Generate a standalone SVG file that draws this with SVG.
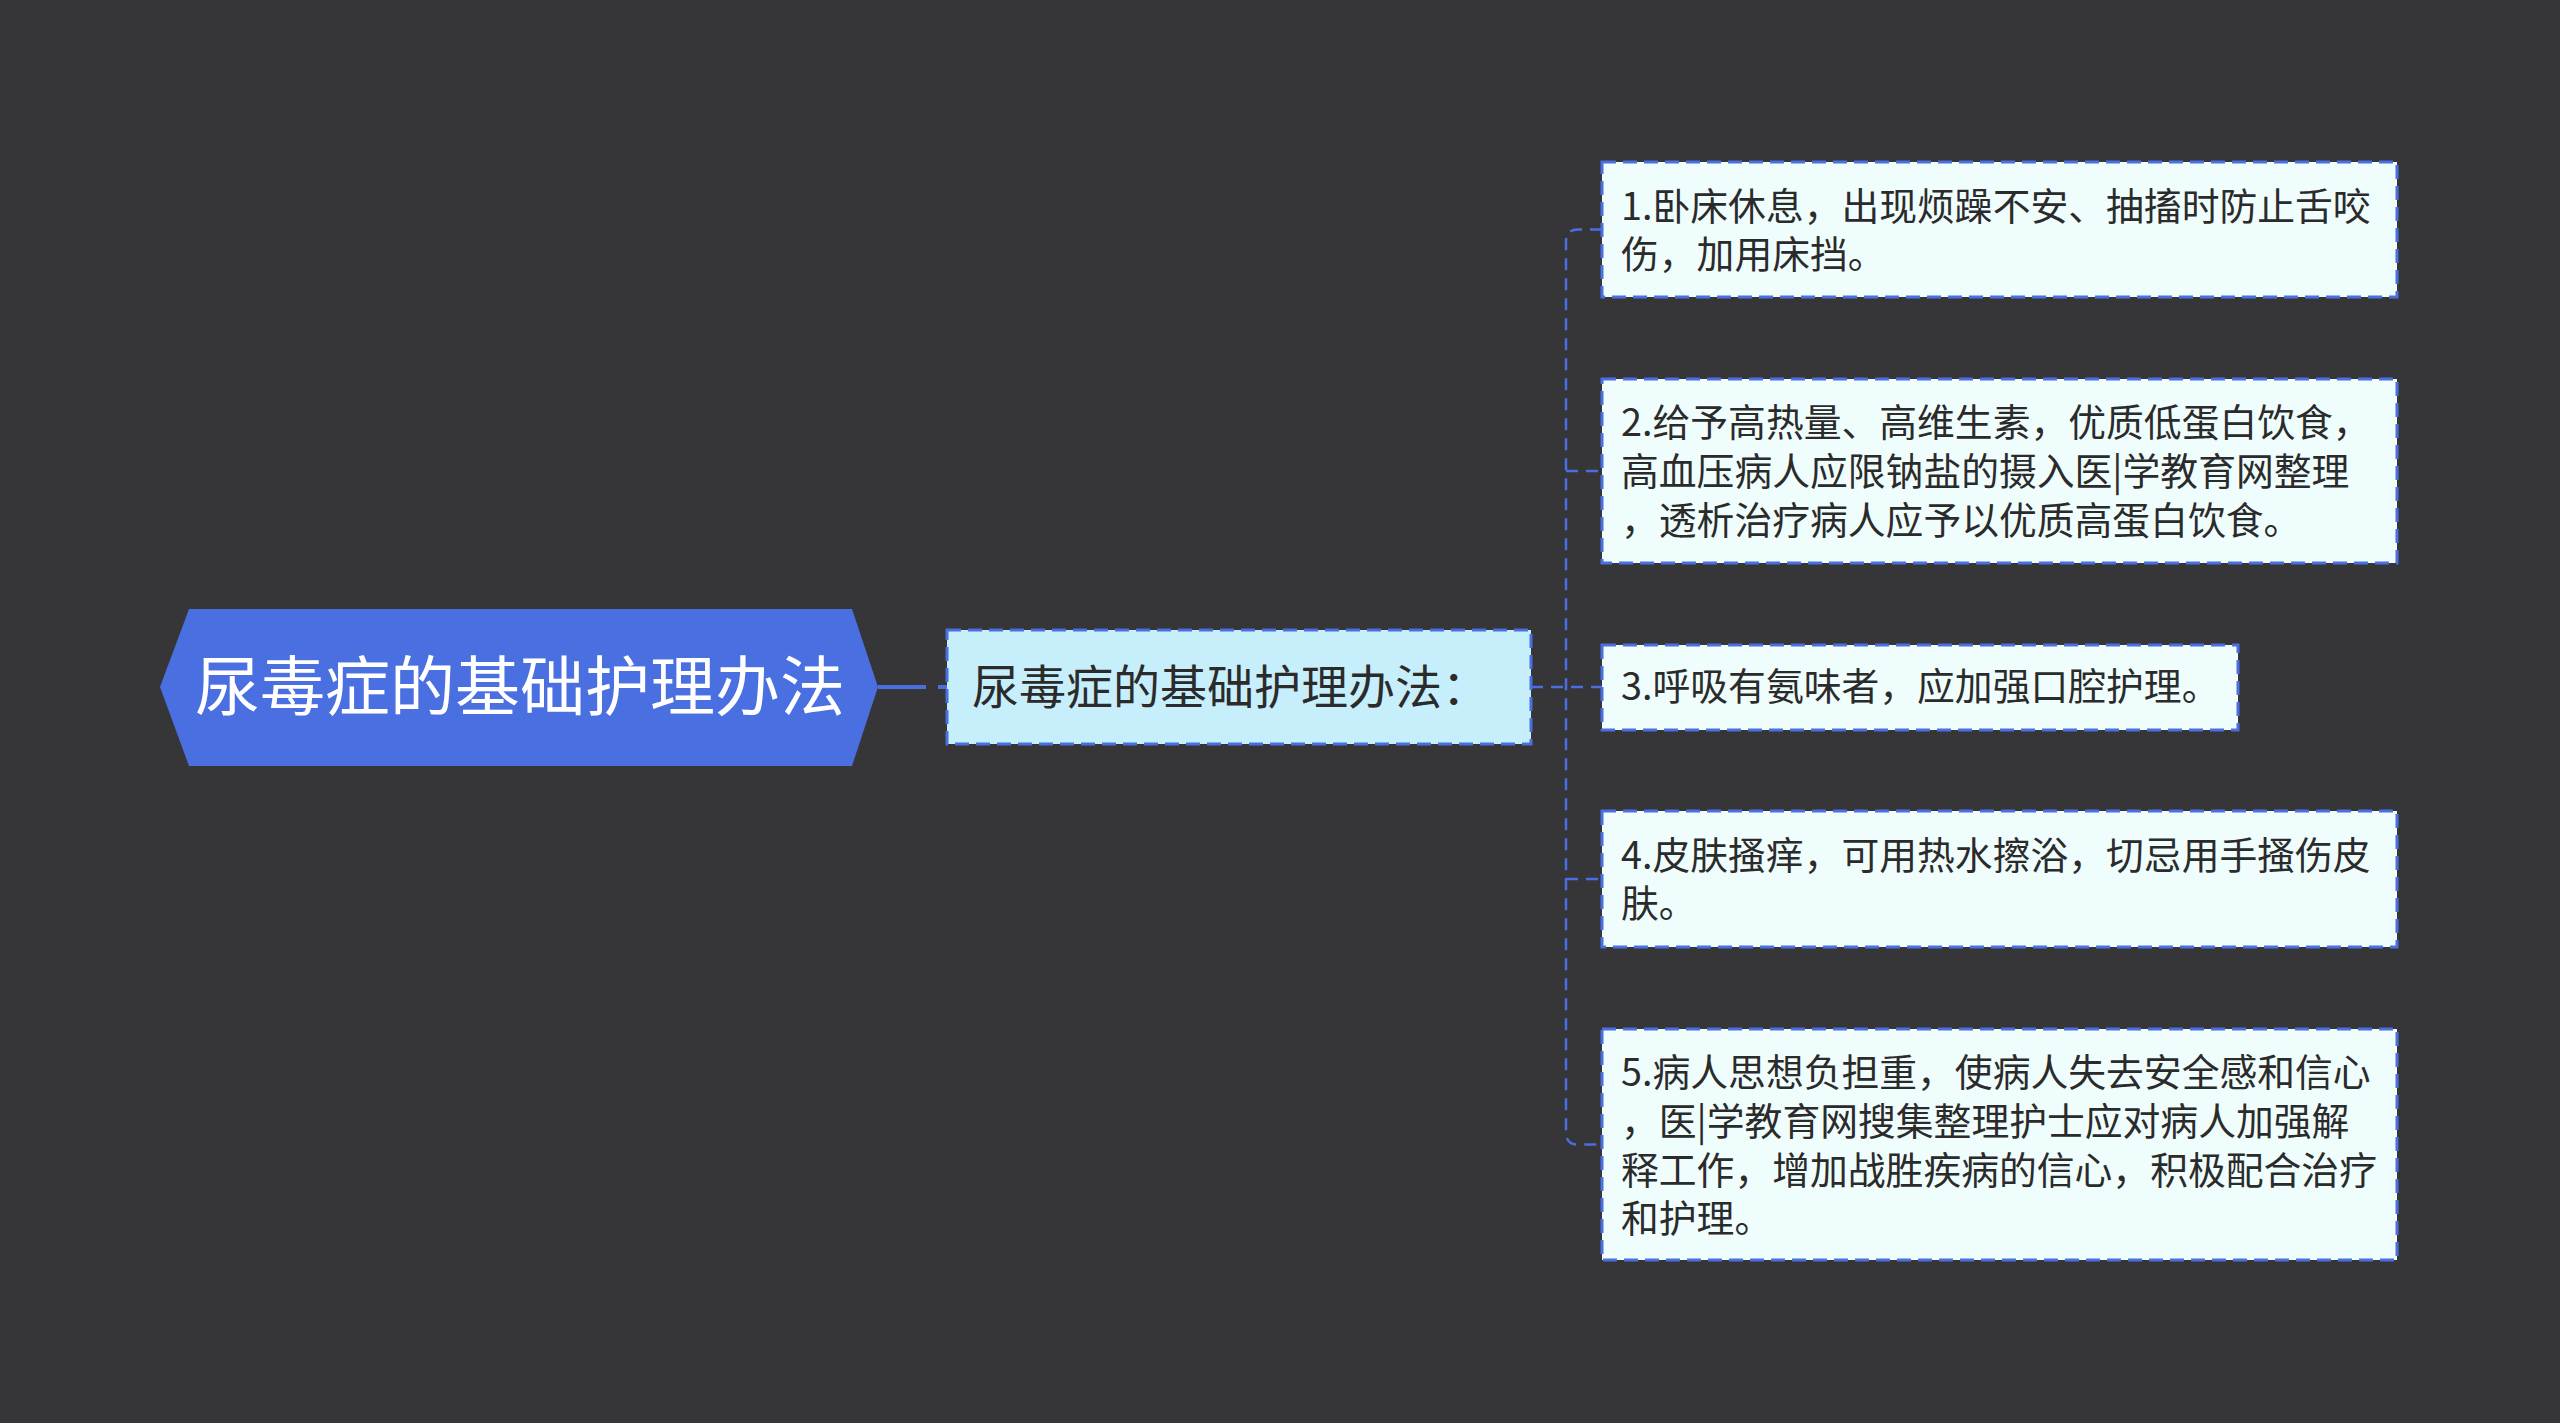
<svg xmlns="http://www.w3.org/2000/svg" width="2560" height="1423" viewBox="0 0 2560 1423">
<style>
.leaf{fill:#f0fdfd;stroke:#4a6fe0;stroke-width:3;stroke-dasharray:14 7}
.lt{font-family:"Noto Sans CJK SC","Noto Sans",sans-serif;font-size:37.8px;fill:#2b2b2b}
.conn{fill:none;stroke:#4a6fe0;stroke-width:2.5;stroke-dasharray:12 8}
</style>
<rect x="0" y="0" width="2560" height="1423" fill="#363538"/>
<g id="connectors">
<path d="M878 687 H947" fill="none" stroke="#4a6fe0" stroke-width="4" stroke-dasharray="48 12"/>
<path class="conn" d="M1531 687 H1602"/>
<path class="conn" d="M1602 229.5 H1578 Q1566 229.5 1566 241.5 V1132.5 Q1566 1144.5 1578 1144.5 H1602"/>
<path class="conn" d="M1566 471 H1602"/>
<path class="conn" d="M1566 879 H1602"/>
</g>
<g id="root">
<polygon points="160,687 189,609 852,609 878,687 852,766 189,766" fill="#4a6fe0"/>
<text x="520" y="710" text-anchor="middle" font-family="Noto Sans CJK SC,Noto Sans,sans-serif" font-size="65" fill="#ffffff">尿毒症的基础护理办法</text>
</g>
<g id="child">
<rect x="947" y="630" width="584" height="114" fill="#c6eefb" stroke="#4a6fe0" stroke-width="3" stroke-dasharray="14 7"/>
<text x="972" y="704" font-family="Noto Sans CJK SC,Noto Sans,sans-serif" font-size="47" fill="#2b2b2b">尿毒症的基础护理办法：</text>
</g>
<g id="leaf1">
<rect class="leaf" x="1602" y="162" width="795" height="135"/>
<text class="lt" x="1621" y="220">1.卧床休息，出现烦躁不安、抽搐时防止舌咬</text>
<text class="lt" x="1621" y="268">伤，加用床挡。</text>
</g>
<g id="leaf2">
<rect class="leaf" x="1602" y="379" width="795" height="184"/>
<text class="lt" x="1621" y="436">2.给予高热量、高维生素，优质低蛋白饮食，</text>
<text class="lt" x="1621" y="485">高血压病人应限钠盐的摄入医|学教育网整理</text>
<text class="lt" x="1621" y="534">，透析治疗病人应予以优质高蛋白饮食。</text>
</g>
<g id="leaf3">
<rect class="leaf" x="1602" y="645" width="636" height="85"/>
<text class="lt" x="1621" y="700">3.呼吸有氨味者，应加强口腔护理。</text>
</g>
<g id="leaf4">
<rect class="leaf" x="1602" y="811" width="795" height="136"/>
<text class="lt" x="1621" y="869">4.皮肤搔痒，可用热水擦浴，切忌用手搔伤皮</text>
<text class="lt" x="1621" y="917">肤。</text>
</g>
<g id="leaf5">
<rect class="leaf" x="1602" y="1029" width="795" height="231"/>
<text class="lt" x="1621" y="1086">5.病人思想负担重，使病人失去安全感和信心</text>
<text class="lt" x="1621" y="1135">，医|学教育网搜集整理护士应对病人加强解</text>
<text class="lt" x="1621" y="1184">释工作，增加战胜疾病的信心，积极配合治疗</text>
<text class="lt" x="1621" y="1232">和护理。</text>
</g>
</svg>
